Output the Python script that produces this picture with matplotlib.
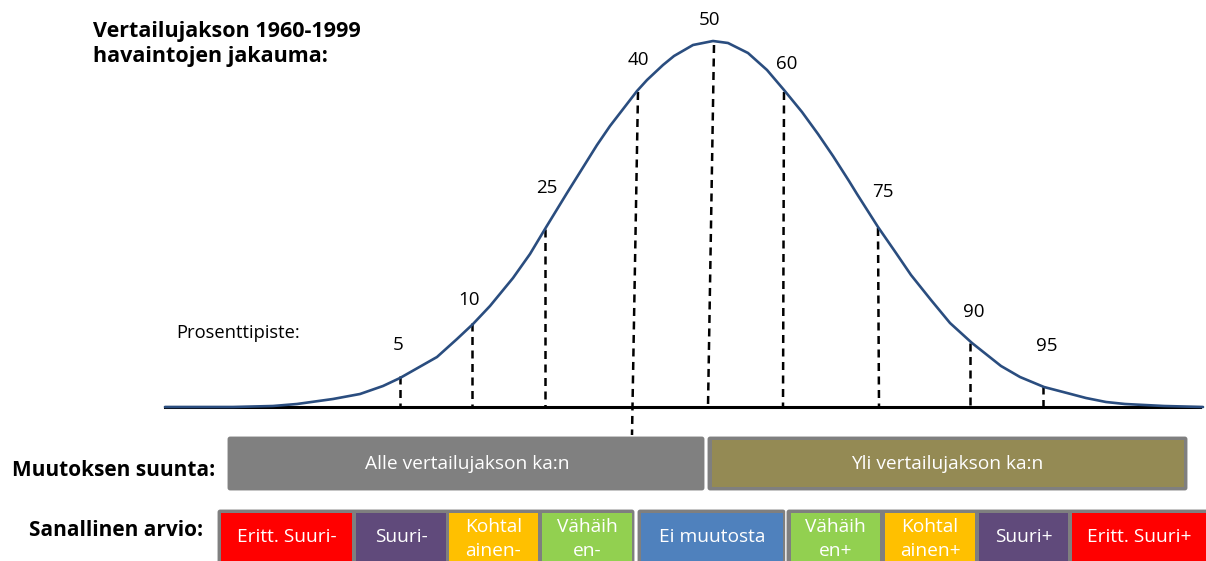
import numpy as np
import matplotlib.pyplot as plt
from matplotlib.patches import FancyBboxPatch

plt.rcParams['font.family'] = ['Open Sans', 'DejaVu Sans']

# jakauman kayra: vaaka-asema ja korkeus perusviivasta
curve_x = [165, 233, 273, 297, 333, 360, 383, 400, 437, 457, 473, 490, 513, 530,
           545, 567, 587, 597, 610, 637, 647, 663, 674, 693, 713, 728, 748, 767,
           784, 802, 818, 833, 849, 857, 878, 896, 911, 931, 950, 972, 1001, 1020,
           1044, 1067, 1086, 1106, 1125, 1164, 1203]
curve_h = [0, 0, 1, 3, 8, 13, 21, 29, 50, 68, 83, 101, 129, 153,
           178, 214, 246, 262, 281, 316, 327, 342, 351, 362, 366, 364, 354, 337,
           317, 295, 273, 251, 226, 213, 180, 154, 132, 107, 84, 64, 41, 30,
           20, 14, 9, 5, 3, 1, 0]

# prosenttipisteet
pct_labels = ["5", "10", "25", "40", "50", "60", "75", "90", "95"]
pct_x_top = [400, 472, 545, 638, 714, 784, 878, 970, 1043]
pct_x_bot = [400, 472, 545, 632, 708, 783, 879, 970, 1043]
pct_top = [31, 84, 178, 315, 362, 315, 179, 64, 21]
pct_bot = [0, 0, 0, -28, 0, 0, 0, 0, 0]
lab_x = [398, 469, 547, 638, 710, 787, 883, 974, 1047]
lab_h = [62, 107, 219, 347, 387, 343, 215, 95, 61]

# muutoksen suunta
dir_labels = ["Alle vertailujakson ka:n", "Yli vertailujakson ka:n"]
dir_edges = [227, 707, 1188]
dir_colors = ["#808080", "#948A54"]

# sanallinen arvio
word_labels = ["Eritt. Suuri-", "Suuri-", "Kohtal\nainen-", "Vähäih\nen-", "Ei muutosta",
               "Vähäih\nen+", "Kohtal\nainen+", "Suuri+", "Eritt. Suuri+"]
word_left = [221, 356, 449, 542, 641, 791, 885, 979, 1072]
word_right = [352, 446, 538, 632, 783, 880, 975, 1068, 1212]
word_colors = ["#FF0000", "#604A7B", "#FFC000", "#92D050", "#4F81BD",
               "#92D050", "#FFC000", "#604A7B", "#FF0000"]
frame_left = [217, 637, 786]
frame_right = [635, 786, 1212]

frame_col = "#7F7F7F"

fig = plt.figure(figsize=(12.06, 5.61), dpi=100)
ax = fig.add_axes([0, 0, 1, 1])
ax.set_xlim(0, 1206)
ax.set_ylim(-154, 407)
ax.axis("off")

# perusviiva ja kayra
ax.plot([165, 1200], [0, 0], color="black", lw=2.2, zorder=3)
ax.plot(curve_x, curve_h, color="#2A4D7F", lw=1.9, zorder=4,
        solid_capstyle="round", solid_joinstyle="round")

for xt, xb, t, b in zip(pct_x_top, pct_x_bot, pct_top, pct_bot):
    ax.plot([xt, xb], [t, b], color="black", lw=1.8, dashes=(3.2, 2.2), zorder=2)
for s, x, h in zip(pct_labels, lab_x, lab_h):
    ax.text(x, h, s, ha="center", va="center", fontsize=13.5, color="black")

ax.text(176, 74, "Prosenttipiste:", ha="left", va="center", fontsize=13.2)
ax.text(93, 363, "Vertailujakson 1960-1999\nhavaintojen jakauma:", ha="left", va="center",
        fontsize=15.5, fontweight="bold", linespacing=1.25)

# rivi 1
ax.add_patch(FancyBboxPatch((dir_edges[0], -84), dir_edges[1] - 2 - dir_edges[0], 55,
                            boxstyle="round,pad=0,rounding_size=3",
                            fc=dir_colors[0], ec="white", lw=0.8))
ax.add_patch(FancyBboxPatch((dir_edges[1], -84), dir_edges[2] - dir_edges[1], 55,
                            boxstyle="round,pad=0,rounding_size=3",
                            fc=frame_col, ec="white", lw=0.8))
ax.add_patch(FancyBboxPatch((dir_edges[1] + 5, -80), dir_edges[2] - dir_edges[1] - 9, 47,
                            boxstyle="square,pad=0", fc=dir_colors[1], ec="none"))
for i, s in enumerate(dir_labels):
    ax.text((dir_edges[i] + dir_edges[i + 1]) / 2, -57, s, ha="center", va="center",
            fontsize=13.8, color="white")

# rivi 2
for l, r in zip(frame_left, frame_right):
    ax.add_patch(FancyBboxPatch((l, -170), r - l, 68,
                                boxstyle="round,pad=0,rounding_size=3",
                                fc=frame_col, ec="white", lw=0.8))
for s, l, r, c in zip(word_labels, word_left, word_right, word_colors):
    ax.add_patch(FancyBboxPatch((l, -170), r - l, 64, boxstyle="square,pad=0",
                                fc=c, ec="none"))
    two = "\n" in s
    ax.text((l + min(r, 1206)) / 2, -132 if two else -130, s, ha="center", va="center",
            fontsize=13.8, color="white", linespacing=1.5)

ax.text(114, -63, "Muutoksen suunta:", ha="center", va="center", fontsize=15,
        fontweight="bold")
ax.text(116, -123, "Sanallinen arvio:", ha="center", va="center", fontsize=15,
        fontweight="bold")

fig.savefig("out.png", dpi=100)
